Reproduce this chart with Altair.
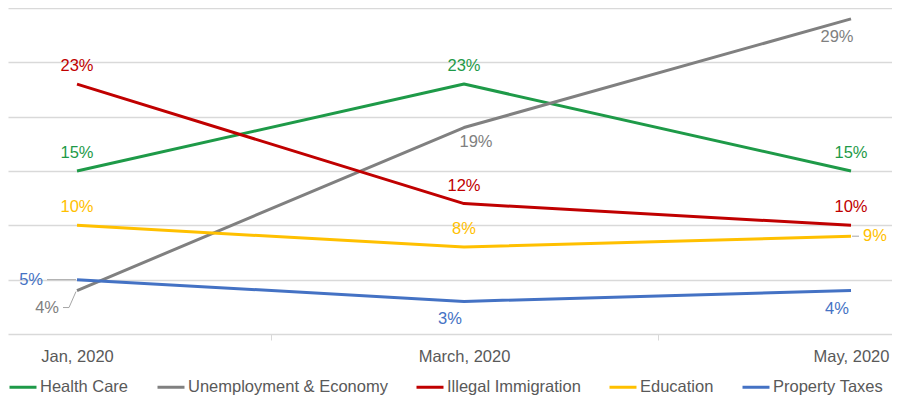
import altair as alt
import pandas as pd

months = ["Jan, 2020", "March, 2020", "May, 2020"]
series = ["Health Care", "Unemployment & Economy", "Illegal Immigration", "Education", "Property Taxes"]
health_care = [15, 23, 15]
unemployment = [4, 19, 29]
illegal_immigration = [23, 12, 10]
education = [10, 8, 9]
property_taxes = [5, 3, 4]
colors = ["#1e9a48", "#808080", "#c00000", "#ffc000", "#4472c4"]
label_pos = {
    "Health Care": ["above", "above", "above"],
    "Unemployment & Economy": ["leftlow", "belowright", "below"],
    "Illegal Immigration": ["above", "above", "above"],
    "Education": ["above", "above", "right"],
    "Property Taxes": ["left", "below", "below"],
}

values = [health_care, unemployment, illegal_immigration, education, property_taxes]
rows = []
for s, vals in zip(series, values):
    for i, (m, v) in enumerate(zip(months, vals)):
        rows.append({"idx": i, "month": m, "series": s, "value": v,
                     "label": f"{v}%", "pos": label_pos[s][i]})
df = pd.DataFrame(rows)

FONT = "Liberation Sans"
TXT = "#595959"
FS = 16.5

label_expr = ("datum.value == 0 ? '" + months[0] + "' : datum.value == 1 ? '" + months[1] +
              "' : datum.value == 2 ? '" + months[2] + "' : ''")

x_enc = alt.X("idx:Q",
              scale=alt.Scale(domain=[-0.1783, 2.1059], nice=False, zero=False),
              axis=alt.Axis(values=[0, 0.5, 1, 1.5, 2], labelExpr=label_expr, grid=False,
                            domain=False, tickColor="#d9d9d9", tickSize=6, tickWidth=1,
                            tickOpacity={"condition": {"test": "datum.value % 1 === 0", "value": 0}, "value": 1},
                            labelFontSize=FS, labelColor=TXT, labelPadding=8, labelFont=FONT,
                            labelOverlap=False, labelFlush=False, title=None))
y_enc = alt.Y("value:Q",
              scale=alt.Scale(domain=[0, 30], nice=False),
              axis=alt.Axis(values=[0, 5, 10, 15, 20, 25, 30], grid=True, gridColor="#d9d9d9",
                            gridWidth=1.5, labels=False, ticks=False, domain=False, title=None))

color_scale = alt.Scale(domain=series, range=colors)

base = alt.Chart(df)

lines = base.mark_line(strokeWidth=3, strokeJoin="round").encode(
    x=x_enc, y=y_enc,
    color=alt.Color("series:N", scale=color_scale, sort=series,
                    legend=alt.Legend(orient="none", legendX=0, legendY=364, direction="horizontal",
                                      title=None, symbolType="stroke", symbolSize=729, padding=0,
                                      symbolStrokeWidth=3, labelFontSize=FS, labelColor=TXT,
                                      labelFont=FONT, labelOffset=2, columnPadding=22,
                                      labelLimit=400)),
    order=alt.Order("idx:Q"),
)

placements = {
    "above": dict(dx=0, dy=-18, align="center"),
    "below": dict(dx=-14, dy=18, align="center"),
    "belowright": dict(dx=12, dy=14, align="center"),
    "left": dict(dx=-34, dy=0, align="right"),
    "leftlow": dict(dx=-18, dy=17, align="right"),
    "right": dict(dx=12, dy=0, align="left"),
}

text_layers = []
for p, kw in placements.items():
    text_layers.append(
        base.transform_filter(alt.datum.pos == p).mark_text(
            fontSize=FS, font=FONT, baseline="middle", **kw
        ).encode(
            x="idx:Q", y="value:Q", text="label:N",
            color=alt.Color("series:N", scale=color_scale, legend=None),
        )
    )

LEAD = "#a6a6a6"
lead_left = base.transform_filter(alt.datum.pos == "left").mark_rule(
    color=LEAD, strokeWidth=1, xOffset=-30, x2Offset=-1).encode(
    x="idx:Q", x2="idx:Q", y="value:Q")
lead_right = base.transform_filter(alt.datum.pos == "right").mark_rule(
    color=LEAD, strokeWidth=1, xOffset=1, x2Offset=8).encode(
    x="idx:Q", x2="idx:Q", y="value:Q")
lead_ll1 = base.transform_filter(alt.datum.pos == "leftlow").mark_rule(
    color=LEAD, strokeWidth=1, xOffset=-14, x2Offset=-8, yOffset=17).encode(
    x="idx:Q", x2="idx:Q", y="value:Q")
lead_ll2 = base.transform_filter(alt.datum.pos == "leftlow").mark_rule(
    color=LEAD, strokeWidth=1, xOffset=-8, x2Offset=-1, yOffset=17, y2Offset=1).encode(
    x="idx:Q", x2="idx:Q", y="value:Q", y2="value:Q")

chart = alt.layer(lead_left, lead_right, lead_ll1, lead_ll2, lines, *text_layers).properties(
    width=884, height=326, padding={"left": 0, "top": 0, "right": 0, "bottom": 0}
).configure(font=FONT).configure_view(stroke=None)

chart.save("out.html", embed_options={"renderer": "svg", "actions": False})
